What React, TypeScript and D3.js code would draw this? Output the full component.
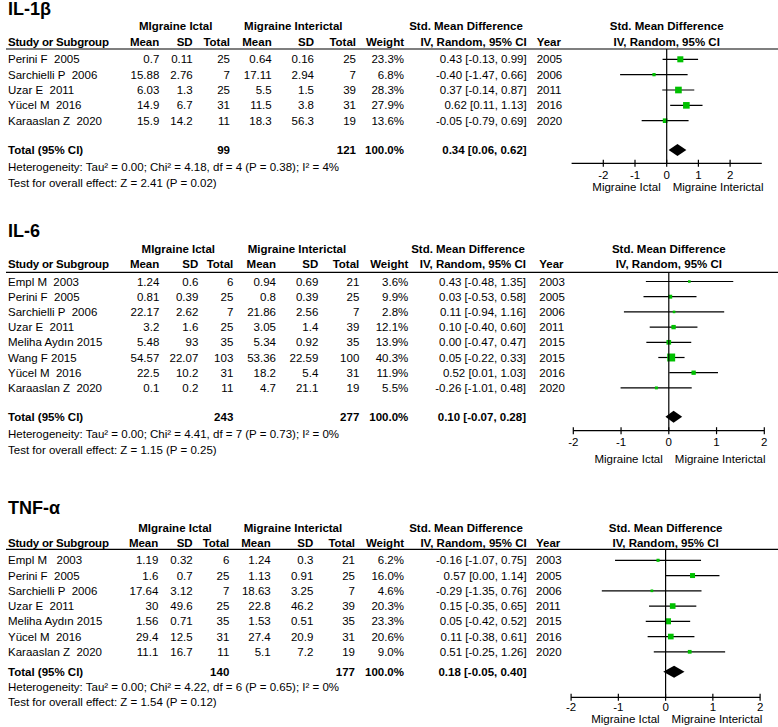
import React from "react";
import * as d3 from "d3";

// ---------- IL-1β ----------
const il1bTitle = "IL-1β";
const il1bStudy = ["Perini F  2005", "Sarchielli P  2006", "Uzar E  2011", "Yücel M  2016", "Karaaslan Z  2020"];
const il1bIctalMean = ["0.7", "15.88", "6.03", "14.9", "15.9"];
const il1bIctalSD = ["0.11", "2.76", "1.3", "6.7", "14.2"];
const il1bIctalN = ["25", "7", "25", "31", "11"];
const il1bInterMean = ["0.64", "17.11", "5.5", "11.5", "18.3"];
const il1bInterSD = ["0.16", "2.94", "1.5", "3.8", "56.3"];
const il1bInterN = ["25", "7", "39", "31", "19"];
const il1bWeight = [23.3, 6.8, 28.3, 27.9, 13.6];
const il1bSMD = [0.43, -0.4, 0.37, 0.62, -0.05];
const il1bLower = [-0.13, -1.47, -0.14, 0.11, -0.79];
const il1bUpper = [0.99, 0.66, 0.87, 1.13, 0.69];
const il1bYear = ["2005", "2006", "2011", "2016", "2020"];
const il1bTotals = ["99", "121"];
const il1bPooled = [0.34, 0.06, 0.62];
const il1bHet = "Heterogeneity: Tau² = 0.00; Chi² = 4.18, df = 4 (P = 0.38); I² = 4%";
const il1bTest = "Test for overall effect: Z = 2.41 (P = 0.02)";

// ---------- IL-6 ----------
const il6Title = "IL-6";
const il6Study = ["Empl M  2003", "Perini F  2005", "Sarchielli P  2006", "Uzar E  2011", "Meliha Aydın 2015", "Wang F 2015", "Yücel M  2016", "Karaaslan Z  2020"];
const il6IctalMean = ["1.24", "0.81", "22.17", "3.2", "5.48", "54.57", "22.5", "0.1"];
const il6IctalSD = ["0.6", "0.39", "2.62", "1.6", "93", "22.07", "10.2", "0.2"];
const il6IctalN = ["6", "25", "7", "25", "35", "103", "31", "11"];
const il6InterMean = ["0.94", "0.8", "21.86", "3.05", "5.34", "53.36", "18.2", "4.7"];
const il6InterSD = ["0.69", "0.39", "2.56", "1.4", "0.92", "22.59", "5.4", "21.1"];
const il6InterN = ["21", "25", "7", "39", "35", "100", "31", "19"];
const il6Weight = [3.6, 9.9, 2.8, 12.1, 13.9, 40.3, 11.9, 5.5];
const il6SMD = [0.43, 0.03, 0.11, 0.1, 0.0, 0.05, 0.52, -0.26];
const il6Lower = [-0.48, -0.53, -0.94, -0.4, -0.47, -0.22, 0.01, -1.01];
const il6Upper = [1.35, 0.58, 1.16, 0.6, 0.47, 0.33, 1.03, 0.48];
const il6Year = ["2003", "2005", "2006", "2011", "2015", "2015", "2016", "2020"];
const il6Totals = ["243", "277"];
const il6Pooled = [0.1, -0.07, 0.28];
const il6Het = "Heterogeneity: Tau² = 0.00; Chi² = 4.41, df = 7 (P = 0.73); I² = 0%";
const il6Test = "Test for overall effect: Z = 1.15 (P = 0.25)";

// ---------- TNF-α ----------
const tnfTitle = "TNF-α";
const tnfStudy = ["Empl M   2003", "Perini F  2005", "Sarchielli P  2006", "Uzar E  2011", "Meliha Aydın 2015", "Yücel M  2016", "Karaaslan Z  2020"];
const tnfIctalMean = ["1.19", "1.6", "17.64", "30", "1.56", "29.4", "11.1"];
const tnfIctalSD = ["0.32", "0.7", "3.12", "49.6", "0.71", "12.5", "16.7"];
const tnfIctalN = ["6", "25", "7", "25", "35", "31", "11"];
const tnfInterMean = ["1.24", "1.13", "18.63", "22.8", "1.53", "27.4", "5.1"];
const tnfInterSD = ["0.3", "0.91", "3.25", "46.2", "0.51", "20.9", "7.2"];
const tnfInterN = ["21", "25", "7", "39", "35", "31", "19"];
const tnfWeight = [6.2, 16.0, 4.6, 20.3, 23.3, 20.6, 9.0];
const tnfSMD = [-0.16, 0.57, -0.29, 0.15, 0.05, 0.11, 0.51];
const tnfLower = [-1.07, 0.0, -1.35, -0.35, -0.42, -0.38, -0.25];
const tnfUpper = [0.75, 1.14, 0.76, 0.65, 0.52, 0.61, 1.26];
const tnfYear = ["2003", "2005", "2006", "2011", "2015", "2016", "2020"];
const tnfTotals = ["140", "177"];
const tnfPooled = [0.18, -0.05, 0.4];
const tnfHet = "Heterogeneity: Tau² = 0.00; Chi² = 4.22, df = 6 (P = 0.65); I² = 0%";
const tnfTest = "Test for overall effect: Z = 1.54 (P = 0.12)";

const axisTicks = [-2, -1, 0, 1, 2];

const FONT = "'Liberation Sans', Arial, Helvetica, sans-serif";
const GREEN = "#00c000";
const FS = 11.5;

const f2 = (v: number) => v.toFixed(2);

type Layout = {
  title: number; group: number; col: number; line: number; row0: number; step: number;
  total: number; het: number; test: number; axis: number; tickB: number; subB: number;
  zero: number; unit: number; range: number;
  cols: number[]; // mean1, sd1, n1, mean2, sd2, n2, weight, ci, year
  g1: number; g2: number; ciHdr: number;
};

const layouts: Layout[] = [
  { title: 15, group: 26, col: 41.7, line: 49, row0: 59.3, step: 15.35, total: 150, het: 166.7, test: 183.3,
    axis: 163.3, tickB: 178.5, subB: 190.8, zero: 666.7, unit: 31.7, range: 3,
    cols: [159.3, 192.7, 230, 271.7, 314, 356, 404, 526.7, 536.7], g1: 175.7, g2: 293.3, ciHdr: 466 },
  { title: 237, group: 249.3, col: 264.3, line: 272.3, row0: 281.5, step: 15.2, total: 416.7, het: 434.3, test: 450,
    axis: 430.7, tickB: 445.7, subB: 463, zero: 668.8, unit: 47.75, range: 2,
    cols: [159.3, 198.3, 233.3, 276, 318.3, 359.3, 408.3, 526, 539.3], g1: 178.3, g2: 297, ciHdr: 468 },
  { title: 514, group: 528.3, col: 543.3, line: 549.3, row0: 560.3, step: 15.25, total: 671.7, het: 686.7, test: 701.7,
    axis: 697.3, tickB: 710.8, subB: 723.2, zero: 665.6, unit: 47.25, range: 2,
    cols: [158.3, 192.7, 229.3, 270.7, 313.3, 355, 404, 526.7, 536], g1: 175, g2: 293, ciHdr: 466 },
];

type PanelData = {
  title: string; study: string[]; im: string[]; isd: string[]; inn: string[]; nm: string[]; nsd: string[]; nn: string[];
  w: number[]; smd: number[]; lo: number[]; hi: number[]; year: string[]; totals: string[]; pooled: number[]; het: string; test: string;
};

const panels: PanelData[] = [
  { title: il1bTitle, study: il1bStudy, im: il1bIctalMean, isd: il1bIctalSD, inn: il1bIctalN, nm: il1bInterMean, nsd: il1bInterSD, nn: il1bInterN,
    w: il1bWeight, smd: il1bSMD, lo: il1bLower, hi: il1bUpper, year: il1bYear, totals: il1bTotals, pooled: il1bPooled, het: il1bHet, test: il1bTest },
  { title: il6Title, study: il6Study, im: il6IctalMean, isd: il6IctalSD, inn: il6IctalN, nm: il6InterMean, nsd: il6InterSD, nn: il6InterN,
    w: il6Weight, smd: il6SMD, lo: il6Lower, hi: il6Upper, year: il6Year, totals: il6Totals, pooled: il6Pooled, het: il6Het, test: il6Test },
  { title: tnfTitle, study: tnfStudy, im: tnfIctalMean, isd: tnfIctalSD, inn: tnfIctalN, nm: tnfInterMean, nsd: tnfInterSD, nn: tnfInterN,
    w: tnfWeight, smd: tnfSMD, lo: tnfLower, hi: tnfUpper, year: tnfYear, totals: tnfTotals, pooled: tnfPooled, het: tnfHet, test: tnfTest },
];

const B = (c: number) => c + 4.1; // center -> baseline

function Panel({ d, L }: { d: PanelData; L: Layout }) {
  const x = d3.scaleLinear().domain([-L.range, L.range]).range([L.zero - L.unit * L.range, L.zero + L.unit * L.range]);
  const rowY = (i: number) => L.row0 + i * L.step;
  const c = L.cols;
  const T = (props: any) => <text fontFamily={FONT} fontSize={FS} fill="#000" style={{ whiteSpace: "pre" }} {...props} />;
  const [pm, pl, ph] = d.pooled;
  const dh = 6;
  const diamond = d3.line()([
    [x(pl), L.total], [x(pm), L.total - dh], [x(ph), L.total], [x(pm), L.total + dh],
  ]) + "Z";
  return (
    <g>
      <text x={8} y={L.title} fontFamily={FONT} fontSize={18} fontWeight="bold">{d.title}</text>
      {/* group headers */}
      <T x={L.g1} y={B(L.group)} textAnchor="middle" fontWeight="bold">MIgraine Ictal</T>
      <T x={L.g2} y={B(L.group)} textAnchor="middle" fontWeight="bold">Migraine Interictal</T>
      <T x={L.ciHdr} y={B(L.group)} textAnchor="middle" fontWeight="bold">Std. Mean Difference</T>
      <T x={L.zero} y={B(L.group)} textAnchor="middle" fontWeight="bold">Std. Mean Difference</T>
      {/* column headers */}
      <T x={8} y={B(L.col)} fontWeight="bold" letterSpacing={-0.2}>Study or Subgroup</T>
      {["Mean", "SD", "Total", "Mean", "SD", "Total", "Weight", "IV, Random, 95% CI"].map((h, k) => (
        <T key={k} x={c[k]} y={B(L.col)} textAnchor="end" fontWeight="bold">{h}</T>
      ))}
      <T x={c[8]} y={B(L.col)} fontWeight="bold">Year</T>
      <T x={L.zero} y={B(L.col)} textAnchor="middle" fontWeight="bold">IV, Random, 95% CI</T>
      <line x1={6} x2={778} y1={L.line} y2={L.line} stroke="#000" strokeWidth={1.2} />
      {/* rows */}
      {d.study.map((s, i) => {
        const y = rowY(i);
        const vals = [d.im[i], d.isd[i], d.inn[i], d.nm[i], d.nsd[i], d.nn[i], d.w[i].toFixed(1) + "%", `${f2(d.smd[i])} [${f2(d.lo[i])}, ${f2(d.hi[i])}]`];
        const side = Math.max(2.6, 1.25 * Math.sqrt(d.w[i]));
        return (
          <g key={i}>
            <T x={8} y={B(y)}>{s}</T>
            {vals.map((v, k) => (
              <T key={k} x={c[k]} y={B(y)} textAnchor="end">{v}</T>
            ))}
            <T x={c[8]} y={B(y)}>{d.year[i]}</T>
            <line x1={x(d.lo[i])} x2={x(d.hi[i])} y1={y} y2={y} stroke="#000" strokeWidth={1.2} />
            <rect x={x(d.smd[i]) - side / 2} y={y - side / 2} width={side} height={side} fill={GREEN} />
          </g>
        );
      })}
      {/* total */}
      <T x={8} y={B(L.total)} fontWeight="bold">Total (95% CI)</T>
      <T x={c[2]} y={B(L.total)} textAnchor="end" fontWeight="bold">{d.totals[0]}</T>
      <T x={c[5]} y={B(L.total)} textAnchor="end" fontWeight="bold">{d.totals[1]}</T>
      <T x={c[6]} y={B(L.total)} textAnchor="end" fontWeight="bold">100.0%</T>
      <T x={c[7]} y={B(L.total)} textAnchor="end" fontWeight="bold">{`${f2(pm)} [${f2(pl)}, ${f2(ph)}]`}</T>
      <T x={8} y={B(L.het)}>{d.het}</T>
      <T x={8} y={B(L.test)}>{d.test}</T>
      {/* forest */}
      <line x1={x(0)} x2={x(0)} y1={L.line} y2={L.axis} stroke="#000" strokeWidth={1.2} />
      <path d={diamond} fill="#000" />
      <line x1={x(-L.range)} x2={x(L.range)} y1={L.axis} y2={L.axis} stroke="#000" strokeWidth={1.2} />
      {axisTicks.map((t) => (
        <g key={t}>
          <line x1={x(t)} x2={x(t)} y1={L.axis - 3.5} y2={L.axis + 3.5} stroke="#000" strokeWidth={1.2} />
          <T x={x(t)} y={L.tickB} textAnchor="middle" fontSize={11.5}>{String(t)}</T>
        </g>
      ))}
      <T x={x(0) - 6} y={L.subB} textAnchor="end">Migraine Ictal</T>
      <T x={x(0) + 6} y={L.subB}>Migraine Interictal</T>
    </g>
  );
}

export default function App() {
  return (
    <svg width={778} height={727} style={{ position: "absolute", left: 0, top: 0, background: "#fff" }}>
      <rect width={778} height={727} fill="#fff" />
      {panels.map((p, i) => (
        <Panel key={i} d={p} L={layouts[i]} />
      ))}
    </svg>
  );
}
